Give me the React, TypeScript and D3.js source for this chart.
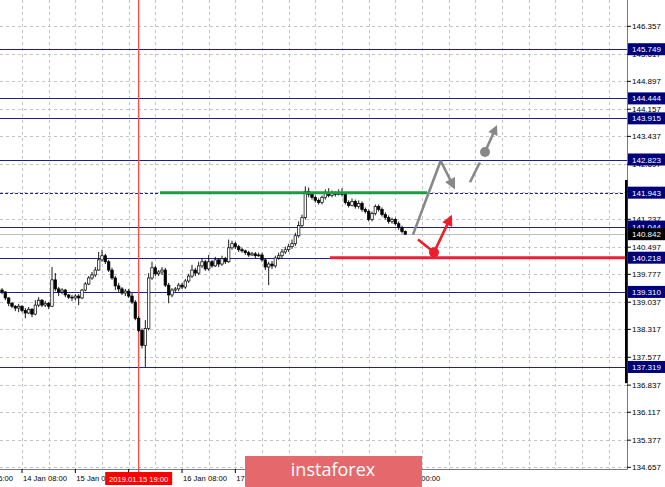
import React from 'react';
import * as d3 from 'd3';

// ---- data ----
const opens = [
  139.36, 139.31, 139.15, 139.01, 138.93, 138.88, 138.93, 138.82, 138.75, 138.85,
  138.72, 138.96, 139.09, 138.96, 139.01, 138.93, 139.63, 139.39, 139.31, 139.36,
  139.23, 139.17, 139.15, 139.20, 139.15, 139.36, 139.52, 139.68, 139.76, 139.89,
  140.16, 140.27, 140.11, 139.89, 139.68, 139.47, 139.39, 139.28, 139.33, 139.20,
  139.04, 138.61, 138.29, 137.89, 138.34, 139.68, 139.95, 139.79, 139.84, 139.89,
  139.49, 139.23, 139.36, 139.39, 139.49, 139.44, 139.60, 139.73, 139.89, 139.81,
  140.00, 140.11, 139.92, 140.11, 140.00, 140.16, 140.05, 140.19, 140.11, 140.48,
  140.59, 140.51, 140.43, 140.40, 140.35, 140.29, 140.32, 140.27, 140.29, 140.16,
  139.97, 140.05, 140.00, 140.21, 140.27, 140.37, 140.43, 140.51, 140.59, 140.80,
  141.07, 141.28, 141.98, 141.90, 141.82, 141.74, 141.68, 141.82, 141.95, 141.87,
  141.92, 141.90, 141.95, 141.90, 141.68, 141.60, 141.71, 141.58, 141.66, 141.50,
  141.44, 141.23, 141.39, 141.58, 141.50, 141.36, 141.28, 141.18, 141.23, 141.12,
  141.02, 140.91,
];
const closes = [
  139.31, 139.15, 139.01, 138.93, 138.88, 138.93, 138.82, 138.75, 138.85, 138.72,
  138.96, 139.09, 138.96, 139.01, 138.93, 139.63, 139.39, 139.31, 139.36, 139.23,
  139.17, 139.15, 139.20, 139.15, 139.36, 139.52, 139.68, 139.76, 139.89, 140.16,
  140.27, 140.11, 139.89, 139.68, 139.47, 139.39, 139.28, 139.33, 139.20, 139.04,
  138.61, 138.29, 137.89, 138.34, 139.68, 139.95, 139.79, 139.84, 139.89, 139.49,
  139.23, 139.36, 139.39, 139.49, 139.44, 139.60, 139.73, 139.89, 139.81, 140.00,
  140.11, 139.92, 140.11, 140.00, 140.16, 140.05, 140.19, 140.11, 140.48, 140.59,
  140.51, 140.43, 140.40, 140.35, 140.29, 140.32, 140.27, 140.29, 140.16, 139.97,
  140.05, 140.00, 140.21, 140.27, 140.37, 140.43, 140.51, 140.59, 140.80, 141.07,
  141.28, 141.98, 141.90, 141.82, 141.74, 141.68, 141.82, 141.95, 141.87, 141.92,
  141.90, 141.95, 141.90, 141.68, 141.60, 141.71, 141.58, 141.66, 141.50, 141.44,
  141.23, 141.39, 141.58, 141.50, 141.36, 141.28, 141.18, 141.23, 141.12, 141.02,
  140.91, 140.84,
];
const highs = [
  139.41, 139.33, 139.17, 139.04, 138.96, 138.99, 138.96, 138.88, 138.91, 138.88,
  139.09, 139.17, 139.12, 139.07, 139.04, 139.97, 139.81, 139.44, 139.41, 139.39,
  139.25, 139.23, 139.25, 139.25, 139.39, 139.57, 139.73, 139.84, 139.97, 140.37,
  140.43, 140.32, 140.16, 139.95, 139.73, 139.55, 139.44, 139.39, 139.39, 139.28,
  139.09, 138.67, 138.34, 138.56, 139.81, 140.11, 140.00, 139.89, 139.97, 139.95,
  139.55, 139.41, 139.44, 139.55, 139.55, 139.65, 139.79, 140.03, 139.95, 140.11,
  140.21, 140.16, 140.29, 140.16, 140.24, 140.21, 140.27, 140.24, 140.70, 140.67,
  140.64, 140.56, 140.48, 140.43, 140.40, 140.37, 140.37, 140.35, 140.35, 140.21,
  140.11, 140.13, 140.27, 140.35, 140.45, 140.51, 140.59, 140.70, 140.88, 141.18,
  141.36, 142.11, 142.08, 141.95, 141.87, 141.79, 141.87, 142.03, 142.06, 142.00,
  141.98, 142.03, 142.06, 141.95, 141.74, 141.79, 141.76, 141.74, 141.71, 141.55,
  141.50, 141.44, 141.63, 141.63, 141.55, 141.42, 141.34, 141.28, 141.28, 141.18,
  141.07, 140.94,
];
const lows = [
  139.25, 139.09, 138.93, 138.88, 138.80, 138.77, 138.77, 138.61, 138.72, 138.64,
  138.69, 138.91, 138.91, 138.91, 138.85, 138.91, 139.33, 139.20, 139.25, 139.17,
  139.12, 139.07, 139.09, 138.96, 139.12, 139.33, 139.49, 139.63, 139.71, 139.87,
  140.11, 140.05, 139.84, 139.63, 139.36, 139.31, 139.23, 139.20, 139.15, 138.99,
  138.56, 138.24, 137.81, 137.32, 138.29, 139.63, 139.73, 139.73, 139.76, 139.44,
  139.01, 139.17, 139.31, 139.33, 139.39, 139.39, 139.55, 139.68, 139.73, 139.76,
  139.95, 139.87, 139.87, 139.95, 139.97, 139.97, 140.00, 140.05, 140.08, 140.43,
  140.45, 140.37, 140.35, 140.29, 140.24, 140.27, 140.21, 140.24, 140.11, 139.89,
  139.49, 139.92, 139.95, 140.16, 140.21, 140.32, 140.37, 140.45, 140.53, 140.75,
  141.02, 141.23, 141.82, 141.76, 141.68, 141.63, 141.63, 141.76, 141.82, 141.82,
  141.84, 141.87, 141.84, 141.63, 141.55, 141.58, 141.52, 141.52, 141.44, 141.39,
  141.18, 141.18, 141.34, 141.44, 141.31, 141.23, 141.12, 141.12, 141.07, 140.96,
  140.86, 140.83,
];

const priceTicks = [
  146.357, 145.617, 144.897, 144.157, 143.437, 142.697, 141.967, 141.237,
  140.497, 139.777, 139.037, 138.317, 137.577, 136.837, 136.117, 135.377, 134.657,
];
const levelPrices = [145.749, 144.444, 143.915, 142.823, 141.943, 141.044, 140.218, 139.310, 137.319];
const dashedLevel = 141.943;
const bidPrice = 140.842;

// time axis: bar index of every label tick (16 bars apart); labels hidden under the
// date marker / logo are left out
const timeTickBars = [-10, 6, 22, 38, 54, 70, 86, 102, 118];
const timeLabelBars = [-10, 6, 22, 54, 70, 118];
const timeLabels = ['11 Jan 16:00', '14 Jan 08:00', '15 Jan 00:00', '16 Jan 08:00', '17 Jan 00:00', '21 Jan 00:00'];
const gridBars = d3.range(-2, 188, 8);
const markerBar = 41;
const markerLabel = '2019.01.15 19:00';

// visible price range bar on the axis [high, low]
const rangeBar = [142.28, 136.89];

// support / resistance segments [fromBar, toBar, price]
const greenSegment = [47.4, 127.5, 141.943];
const redSegment = [98.4, 186.9, 140.218];

// forecast arrows: [bar, price]
const greyArrow1 = [[123.3, 140.83], [131.6, 142.79], [135.9, 142.03]];
const greyArrow2Start = [140.4, 142.22];
const greyArrow2Circle = [144.9, 143.02];
const greyArrow2Tip = [148.5, 143.74];
const redArrowStart = [124.8, 140.70];
const redArrowCircle = [129.6, 140.36];
const redArrowTip = [135.0, 141.36];

// ---- layout ----
const W = 665;
const H = 487;
const PR = 627; // plot right
const PB = 469; // plot bottom
const FONT = "'Liberation Sans', Arial, sans-serif";

const x = d3.scaleLinear().domain([-0.6, 187.5]).range([0, PR]);
const y = d3.scaleLinear().domain([134.657, 146.357]).range([467.3, 26.3]);

function arrowHead(from: number[], to: number[], len: number, half: number) {
  const x1 = x(from[0]), y1 = y(from[1]);
  const x2 = x(to[0]), y2 = y(to[1]);
  const a = Math.atan2(y2 - y1, x2 - x1);
  const bx = x2 - len * Math.cos(a), by = y2 - len * Math.sin(a);
  const px = -Math.sin(a) * half, py = Math.cos(a) * half;
  return `M${x2},${y2}L${bx + px},${by + py}L${bx - px},${by - py}Z`;
}
function shorten(from: number[], to: number[], d: number) {
  const x1 = x(from[0]), y1 = y(from[1]);
  const x2 = x(to[0]), y2 = y(to[1]);
  const L = Math.hypot(x2 - x1, y2 - y1);
  return [x1, y1, x2 - ((x2 - x1) / L) * d, y2 - ((y2 - y1) / L) * d];
}

export default function App() {
  const line = d3.line<number[]>().x((d) => x(d[0])).y((d) => y(d[1]));
  const bw = 2.5;
  const g1 = shorten(greyArrow1[1], greyArrow1[2], 8);
  const g2 = shorten(greyArrow2Circle, greyArrow2Tip, 8);
  const r2 = shorten(redArrowCircle, redArrowTip, 8);
  const levelColor = '#1f1f8f';
  const navyBox = '#00007a';
  return (
    <svg width={W} height={H} style={{ position: 'absolute', left: 0, top: 0, background: '#fff' }}>
      <rect x={0} y={0} width={W} height={H} fill="#fff" />
      {/* grid */}
      <g stroke="#c4c4c4" strokeWidth={1} strokeDasharray="3,3">
        {gridBars.map((b) => (
          <line key={'gv' + b} x1={Math.round(x(b)) + 0.5} x2={Math.round(x(b)) + 0.5} y1={0} y2={PB} />
        ))}
        {priceTicks.map((p) => (
          <line key={'gh' + p} x1={0} x2={PR} y1={Math.round(y(p)) + 0.5} y2={Math.round(y(p)) + 0.5} />
        ))}
      </g>
      {/* level lines */}
      {levelPrices.map((p) => (
        <line
          key={'lv' + p}
          x1={0}
          x2={PR}
          y1={Math.round(y(p)) + 0.5}
          y2={Math.round(y(p)) + 0.5}
          stroke={levelColor}
          strokeWidth={1}
          strokeDasharray={p === dashedLevel ? '3,2' : undefined}
        />
      ))}
      <line x1={0} x2={PR} y1={Math.round(y(bidPrice)) + 0.5} y2={Math.round(y(bidPrice)) + 0.5} stroke="#bdbdbd" strokeWidth={1} />
      {/* marker vertical line */}
      <line x1={x(markerBar)} x2={x(markerBar)} y1={0} y2={473} stroke="#ff4a4a" strokeWidth={1.4} />
      {/* candles */}
      <g>
        {closes.map((c, i) => {
          const o = opens[i];
          const cx = x(i);
          const top = y(Math.max(o, c));
          const bot = y(Math.min(o, c));
          const bull = c >= o;
          return (
            <g key={'c' + i}>
              <line x1={cx} x2={cx} y1={y(highs[i])} y2={y(lows[i])} stroke="#000" strokeWidth={0.9} />
              <rect
                x={cx - bw / 2}
                y={top}
                width={bw}
                height={Math.max(bot - top, 0.8)}
                fill={bull ? '#fff' : '#000'}
                stroke="#000"
                strokeWidth={0.7}
              />
            </g>
          );
        })}
      </g>
      {/* support / resistance */}
      <line x1={x(greenSegment[0])} x2={x(greenSegment[1])} y1={y(greenSegment[2])} y2={y(greenSegment[2])} stroke="#1e9b45" strokeWidth={3} />
      <line x1={x(redSegment[0])} x2={x(redSegment[1])} y1={y(redSegment[2])} y2={y(redSegment[2])} stroke="#e8203a" strokeWidth={3} />
      {/* forecast arrows */}
      <path d={line([greyArrow1[0], greyArrow1[1]]) || ''} fill="none" stroke="#888" strokeWidth={2.6} />
      <line x1={g1[0]} y1={g1[1]} x2={g1[2]} y2={g1[3]} stroke="#888" strokeWidth={2.6} />
      <path d={arrowHead(greyArrow1[1], greyArrow1[2], 11, 5.5)} fill="#888" />
      <line
        x1={x(greyArrow2Start[0])}
        y1={y(greyArrow2Start[1])}
        x2={x(greyArrow2Circle[0])}
        y2={y(greyArrow2Circle[1])}
        stroke="#888"
        strokeWidth={2.6}
        strokeDasharray="22,8"
      />
      <line x1={g2[0]} y1={g2[1]} x2={g2[2]} y2={g2[3]} stroke="#888" strokeWidth={2.6} />
      <path d={arrowHead(greyArrow2Circle, greyArrow2Tip, 10, 5)} fill="#888" />
      <circle cx={x(greyArrow2Circle[0])} cy={y(greyArrow2Circle[1])} r={5} fill="#888" />
      <path d={line([redArrowStart, redArrowCircle]) || ''} fill="none" stroke="#ee1d2a" strokeWidth={2.6} />
      <line x1={r2[0]} y1={r2[1]} x2={r2[2]} y2={r2[3]} stroke="#ee1d2a" strokeWidth={2.6} />
      <path d={arrowHead(redArrowCircle, redArrowTip, 11, 5.5)} fill="#ee1d2a" />
      <circle cx={x(redArrowCircle[0])} cy={y(redArrowCircle[1])} r={5} fill="#ee1d2a" />
      {/* frame */}
      <line x1={PR + 0.5} x2={PR + 0.5} y1={0} y2={PB + 0.5} stroke="#7a7a7a" strokeWidth={1} />
      <line x1={0} x2={PR + 0.5} y1={PB + 0.5} y2={PB + 0.5} stroke="#7a7a7a" strokeWidth={1} />
      <rect x={625} y={y(rangeBar[0])} width={2.6} height={y(rangeBar[1]) - y(rangeBar[0])} fill="#000" />
      {/* price axis */}
      <g fontFamily={FONT} fontSize={8} fill="#000">
        {priceTicks.map((p) => (
          <g key={'pt' + p}>
            <line x1={PR} x2={PR + 4} y1={y(p)} y2={y(p)} stroke="#000" strokeWidth={1} />
            <text x={632} y={y(p) + 3}>{p.toFixed(3)}</text>
          </g>
        ))}
      </g>
      <g fontFamily={FONT} fontSize={8}>
        {levelPrices.map((p) => (
          <g key={'lb' + p}>
            <rect x={628} y={y(p) - 6} width={37} height={12} fill={navyBox} />
            <text x={632} y={y(p) + 3} fill="#fff">{p.toFixed(3)}</text>
          </g>
        ))}
        <rect x={628} y={y(bidPrice) - 6} width={37} height={12} fill="#000" />
        <text x={632} y={y(bidPrice) + 3} fill="#fff">{bidPrice.toFixed(3)}</text>
      </g>
      {/* time axis */}
      <g>
        {timeTickBars.map((b) => (
          <line key={'tt' + b} x1={x(b)} x2={x(b)} y1={PB} y2={PB + 4} stroke="#000" strokeWidth={1} />
        ))}
      </g>
      <g fontFamily={FONT} fontSize={7.6} fill="#000">
        {timeLabelBars.map((b, i) => (
          <text key={'tl' + b} x={x(b) + 1} y={481}>{timeLabels[i]}</text>
        ))}
      </g>
      <rect x={x(markerBar) - 33.5} y={472} width={67} height={13} fill="#ff0000" />
      <text x={x(markerBar)} y={481.5} fill="#fff" fontFamily={FONT} fontSize={7.6} textAnchor="middle">
        {markerLabel}
      </text>
      {/* logo */}
      <rect x={245} y={456} width={177} height={31} fill="#e5696c" />
      <text x={333} y={476} fill="#fff" fontFamily="'Open Sans', sans-serif" fontSize={18} textAnchor="middle">
        instaforex
      </text>
    </svg>
  );
}
